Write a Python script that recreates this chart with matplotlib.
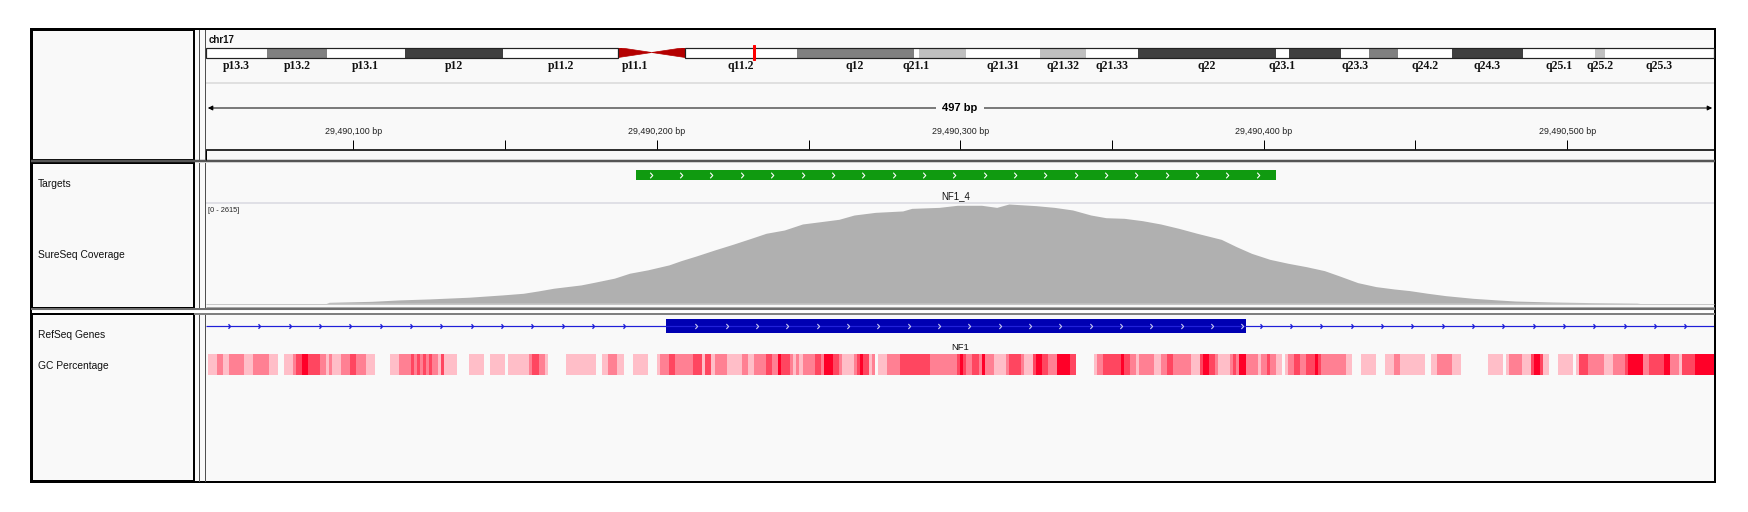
import matplotlib
matplotlib.use("Agg")
import matplotlib.pyplot as plt
from matplotlib.patches import Rectangle, Polygon
from matplotlib.path import Path

W, H = 1749, 512
PX = 0.72  # one pixel in points at dpi 100

# ---- ideogram (hg19 chr17, Mb) ----
CHROM = "chr17"
CHROM_LEN_MB = 81.195
BAND_NAMES = ["p13.3", "p13.2", "p13.1", "p12", "p11.2", "p11.1", "q11.1", "q11.2",
              "q12", "q21.1", "q21.2", "q21.31", "q21.32", "q21.33", "q22", "q23.1",
              "q23.2", "q23.3", "q24.1", "q24.2", "q24.3", "q25.1", "q25.2", "q25.3"]
BAND_START = [0.0, 3.3, 6.5, 10.7, 16.0, 22.2, 24.0, 25.8, 31.8, 38.1, 38.4, 40.9,
              44.9, 47.4, 50.2, 57.6, 58.3, 61.1, 62.6, 64.2, 67.1, 70.9, 74.8, 75.3]
BAND_END = BAND_START[1:] + [CHROM_LEN_MB]
BAND_STAIN = ["gneg", "gpos50", "gneg", "gpos75", "gneg", "acen", "acen", "gneg",
              "gpos50", "gneg", "gpos25", "gneg", "gpos25", "gneg", "gpos75", "gneg",
              "gpos75", "gneg", "gpos50", "gneg", "gpos75", "gneg", "gpos25", "gneg"]
HIDDEN_LABELS = ["q11.1", "q21.2", "q23.2", "q24.1"]
LOCUS_MB = 29.49
STAIN_COLORS = {"gneg": "#FFFFFF", "gpos25": "#C0C0C0", "gpos50": "#808080",
                "gpos75": "#404040", "acen": "#B40000"}

# ---- ruler ----
VIEW_START = 29490051.4
VIEW_END = 29490548.4
SPAN_BP = 497
RULER_TICKS = [29490100, 29490150, 29490200, 29490250, 29490300,
               29490350, 29490400, 29490450, 29490500]

# ---- targets ----
TARGET_NAME = "NF1_4"
TARGET_START, TARGET_END = 29490193, 29490404

# ---- coverage (offset from REGION_START, depth) ----
REGION_START = 29490052
COV_MAX = 2615
COV_OFFSET = [39, 40, 54, 63, 73, 86, 97, 104, 109, 114, 123, 127, 134, 139, 145,
              152, 156, 161, 167, 173, 179, 184, 190, 196, 202, 208, 213, 220, 229,
              232, 241, 247, 255, 260, 264, 273, 279, 285, 291, 296, 302, 308, 314,
              320, 326, 334, 339, 344, 350, 356, 362, 368, 373, 379, 385, 391, 396,
              402, 408, 417, 425, 431, 443, 456, 471, 472]
COV_DEPTH = [0, 26, 52, 89, 115, 160, 220, 264, 327, 397, 484, 547, 662, 792, 881,
             1012, 1124, 1247, 1404, 1553, 1710, 1844, 1930, 2089, 2150, 2212, 2325,
             2395, 2432, 2500, 2526, 2581, 2581, 2526, 2615, 2571, 2526, 2458, 2325,
             2254, 2238, 2176, 2089, 1974, 1844, 1684, 1491, 1315, 1158, 1054, 965,
             860, 719, 544, 439, 377, 335, 264, 201, 131, 89, 60, 34, 18, 8, 0]

# ---- gene ----
GENE_NAME = "NF1"
EXON_START, EXON_END = 29490203, 29490394

# ---- GC percentage (run starts as offset from REGION_START, level 0-4) ----
GC_EDGES = [0, 3, 5, 7, 12, 15, 20, 23, 25, 28, 29, 31, 33, 37, 39, 40, 41, 44, 47, 49,
            52, 55, 60, 63, 67, 68, 69, 70, 71, 72, 73, 74, 76, 77, 78, 82, 86, 91, 93,
            98, 99, 106, 107, 109, 111, 112, 118, 128, 130, 132, 135, 137, 140, 145,
            148, 149, 152, 154, 160,
            162, 163, 164, 166, 167, 171, 176, 178, 180, 184, 186, 188, 189, 192, 193,
            194, 195, 196, 200, 202, 203, 206, 208, 209, 213, 214, 215, 216, 218, 219,
            220, 221, 224, 228, 238, 247, 248, 249, 250, 252, 254, 255, 256, 259, 263,
            264, 268, 269, 272, 273, 275, 277, 280, 284, 286, 292, 293, 295, 301, 302,
            304, 306, 307, 312, 314, 316, 318, 324, 327, 328,
            330, 332, 333, 337, 338, 339, 340, 342, 346, 347, 349, 350, 352, 354, 355,
            356, 358, 360, 362, 365, 366, 367, 375, 377, 380, 385, 388, 391, 393, 401,
            403, 405, 410, 413, 422, 427, 428, 429, 433, 436, 437, 439, 440, 442, 445,
            450, 451, 452, 455, 460, 463, 467, 468, 473, 475, 480, 482, 485, 486, 490,
            497]
GC_LEVEL = [1, 2, 1, 2, 1, 2, 1, 0, 1, 2, 3, 4, 3, 2, 1, 2, 1, 2, 3, 2,
            1, 0, 1, 2, 3, 2, 3, 2, 3, 2, 3, 2, 1, 3, 1, 0, 1, 0, 1,
            0, 1, 2, 3, 2, 1, 0, 1, 0, 1, 2, 1, 0, 1, 0,
            1, 2, 3, 2, 3,
            3, 1, 3, 1, 2, 1, 2, 1, 2, 3, 2, 4, 3, 2, 1,
            2, 1, 2, 3, 2, 4, 3, 2, 1, 2, 3, 4, 3, 1, 2,
            0, 1, 2, 3, 2, 3, 4, 3, 2, 3, 2, 4, 2, 1, 2,
            3, 2, 1, 3, 4, 3, 2, 4, 3, 0, 1, 2, 3, 4, 3,
            2, 1, 2, 1, 2, 3, 2, 1, 3, 4,
            3, 2, 1, 2, 3, 2, 4, 2, 1, 2, 3, 2, 1, 0, 1,
            2, 3, 2, 3, 4, 3, 2, 1, 0, 1, 0, 1, 2, 1, 0,
            1, 2, 1, 0, 1, 0, 1, 2, 1, 3, 4, 3, 1, 0, 1,
            0, 1, 3, 2, 1, 2, 3, 4, 2, 3, 4, 2, 1, 3, 4]
GC_COLORS = {1: "#FFBEC8", 2: "#FF8093", 3: "#FF4660", 4: "#FF0028"}

TRACK_NAMES = ["Targets", "SureSeq Coverage", "RefSeq Genes", "GC Percentage"]
TRACK_NAME_Y = [184, 255, 335, 366]

BG = "#F9F9F9"
SANS = "Liberation Sans"

CHEVRON = Path([(-0.45, 1.0), (0.45, 0.0), (-0.45, -1.0)],
               [Path.MOVETO, Path.LINETO, Path.LINETO])

fig = plt.figure(figsize=(W / 100, H / 100), dpi=100)
fig.patch.set_facecolor("white")


def px_axes(x0, y0, x1, y1):
    a = fig.add_axes([x0 / W, 1 - y1 / H, (x1 - x0) / W, (y1 - y0) / H])
    a.set_axis_off()
    return a


# ---- frame / panels ----
frame = px_axes(0, 0, W, H)
frame.set_xlim(0, W)
frame.set_ylim(H, 0)
frame.add_patch(Rectangle((31, 29), 1684, 453, facecolor=BG, edgecolor="none"))
frame.add_patch(Rectangle((31, 310.5), 1684, 2.2, facecolor="white", edgecolor="none"))
for y0, y1 in [(30, 160), (162.5, 308), (313.5, 481)]:
    frame.add_patch(Rectangle((32, y0), 162, y1 - y0, fill=False,
                              edgecolor="black", lw=2 * PX))
    for xv in (199.3, 205):
        frame.plot([xv, xv], [y0, y1], color="#505050", lw=1 * PX)
frame.hlines(161.3, 31, 1715, color="#555555", lw=2.5 * PX)
frame.hlines(304, 206, 1714, color="#C8C8C8", lw=1 * PX)
frame.hlines(306.8, 206, 1714, color="#A8A8A8", lw=1 * PX)
frame.hlines(309.3, 31, 1715, color="#6E6E6E", lw=2 * PX)
frame.hlines(313.5, 194, 1715, color="#808080", lw=2 * PX)
frame.hlines(203.3, 206, 1714, color="#D8D8E0", lw=1.5 * PX)
frame.hlines(83, 206, 1714, color="#D8D8D8", lw=1.5 * PX)
frame.add_patch(Rectangle((31, 29), 1684, 453, fill=False, edgecolor="black", lw=2 * PX))
for name, y in zip(TRACK_NAMES, TRACK_NAME_Y):
    frame.text(38, y, name, ha="left", va="center", fontsize=7.4, family=SANS, color="#111111")
frame.text(209, 40, CHROM, ha="left", va="center", fontsize=7, family=SANS,
           fontweight="bold", color="#111111")

# ---- ideogram ----
ideo = px_axes(206, 47.5, 1714, 57.5)
ideo.set_xlim(0, CHROM_LEN_MB)
ideo.set_ylim(0, 1)
for name, s, e, stain in zip(BAND_NAMES, BAND_START, BAND_END, BAND_STAIN):
    color = STAIN_COLORS[stain]
    if stain == "acen":
        if name.startswith("p"):
            verts = [(s, 0), (s, 1), (e, 0.5)]
        else:
            verts = [(s, 0.5), (e, 1), (e, 0)]
        ideo.add_patch(Polygon(verts, closed=True, facecolor=color, edgecolor=color, lw=0.5))
    else:
        ideo.add_patch(Rectangle((s, 0), e - s, 1, facecolor=color, edgecolor="none"))
    if name not in HIDDEN_LABELS:
        ideo.text((s + e) / 2, -0.85, name, ha="center", va="center", fontsize=8.5,
                  family="Liberation Serif", fontweight="bold", color="#111111", clip_on=False)
p_end = BAND_END[BAND_NAMES.index("p11.2")]
q_start = BAND_START[BAND_NAMES.index("q11.2")]
ideo.add_patch(Rectangle((0, 0), p_end, 1, fill=False, edgecolor="#222222",
                         lw=1.2 * PX, clip_on=False))
ideo.add_patch(Rectangle((q_start, 0), CHROM_LEN_MB - q_start, 1, fill=False,
                         edgecolor="#222222", lw=1.2 * PX, clip_on=False))
ideo.add_patch(Rectangle((LOCUS_MB - 0.06, -0.25), 0.12, 1.5, facecolor="#FF0000",
                         edgecolor="#FF0000", lw=1 * PX, clip_on=False))

# ---- genomic tracks (y in pixel rows) ----
gax = px_axes(206, 29, 1714, 482)
gax.set_xlim(VIEW_START, VIEW_END)
gax.set_ylim(482, 29)

# ruler
gax.annotate("", xy=(VIEW_END - 0.6, 108), xytext=(VIEW_START + 0.6, 108),
             arrowprops=dict(arrowstyle="<|-|>", color="black", lw=1 * PX,
                             mutation_scale=7, shrinkA=0, shrinkB=0))
gax.text((VIEW_START + VIEW_END) / 2, 108, f"{SPAN_BP} bp", ha="center", va="center",
         fontsize=8, family=SANS, fontweight="bold", color="black",
         bbox=dict(boxstyle="square,pad=0.55", facecolor=BG, edgecolor="none"))
for t in RULER_TICKS:
    gax.vlines(t, 140, 149, color="black", lw=1 * PX)
    if t % 100 == 0:
        gax.text(t, 131, f"{t:,} bp", ha="center", va="center", fontsize=6.4,
                 family=SANS, color="#222222")
gax.hlines(150.3, VIEW_START, VIEW_END, color="black", lw=1.6 * PX)
gax.vlines(VIEW_START + 0.15, 150.3, 160, color="black", lw=1 * PX)

# targets
gax.add_patch(Rectangle((TARGET_START, 170), TARGET_END - TARGET_START, 10,
                        facecolor="#109A10", edgecolor="none"))
tx = list(range(TARGET_START + 5, TARGET_END - 5, 10))
gax.plot(tx, [175] * len(tx), ls="none", marker=CHEVRON, ms=4, mfc="none",
         mec="white", mew=0.8)
gax.text((TARGET_START + TARGET_END) / 2, 196.5, TARGET_NAME, ha="center", va="center",
         fontsize=7, family=SANS, color="#111111")
gax.text(VIEW_START + 0.8, 211, f"[0 - {COV_MAX}]", ha="left", va="center",
         fontsize=5.3, family=SANS, color="#222222")

# gene
gax.hlines(326, VIEW_START, VIEW_END, color="#2020D8", lw=1.2 * PX)
ix = [x for x in range(REGION_START + 7, int(VIEW_END), 10)
      if x < EXON_START - 6 or x > EXON_END + 2]
gax.plot(ix, [326] * len(ix), ls="none", marker=CHEVRON, ms=3.2, mfc="none",
         mec="#2020D8", mew=1.0)
gax.add_patch(Rectangle((EXON_START, 319), EXON_END - EXON_START, 14,
                        facecolor="#0000B2", edgecolor="none"))
ex = list(range(EXON_START + 10, EXON_END + 1, 10))
gax.plot(ex, [326] * len(ex), ls="none", marker=CHEVRON, ms=3.6, mfc="none",
         mec="#C8C8F0", mew=0.8)
gax.text((VIEW_START + VIEW_END) / 2, 348, GENE_NAME, ha="center", va="center",
         fontsize=6.8, family=SANS, color="#111111")

# GC percentage
starts, widths, colors = [], [], []
for s, e, lvl in zip(GC_EDGES[:-1], GC_EDGES[1:], GC_LEVEL):
    if lvl == 0:
        continue
    starts.append(REGION_START + s)
    widths.append(e - s)
    colors.append(GC_COLORS[lvl])
gax.bar(starts, [21] * len(starts), width=widths, bottom=354, align="edge",
        color=colors, linewidth=0)

# ---- coverage ----
cov = px_axes(206, 204, 1714, 303.3)
cov.set_xlim(VIEW_START, VIEW_END)
cov.set_ylim(0, COV_MAX)
cov.fill_between([REGION_START + o for o in COV_OFFSET], COV_DEPTH, 0,
                 color="#B0B0B0", linewidth=0)

fig.savefig("out.png", dpi=100, facecolor="white")
